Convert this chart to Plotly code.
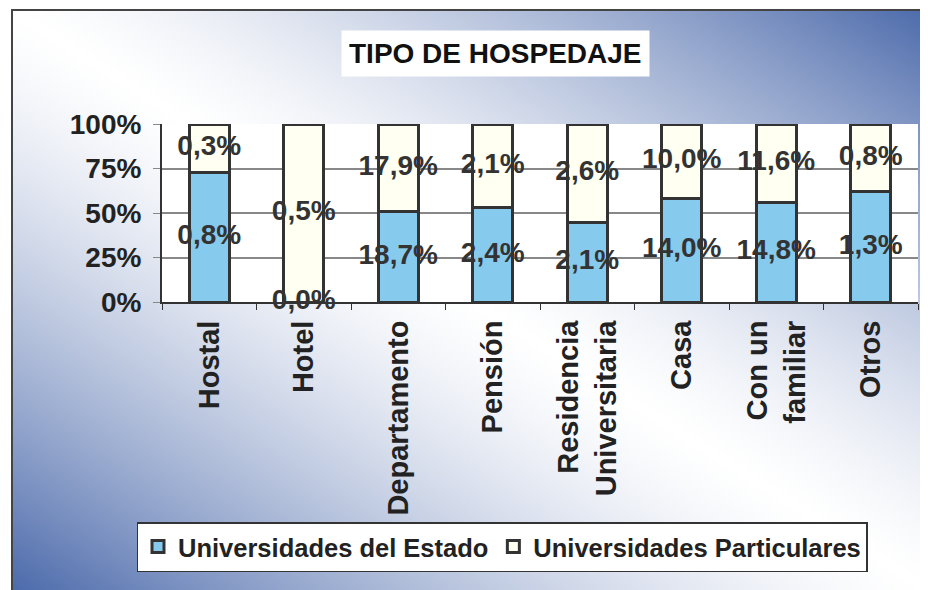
import base64
import struct
import zlib

import plotly.graph_objects as go

categorias = ["Hostal", "Hotel", "Departamento", "Pensión", "Residencia<br>Universitaria",
              "Casa", "Con un<br>familiar", "Otros"]
estado = [0.8, 0.0, 18.7, 2.4, 2.1, 14.0, 14.8, 1.3]
particulares = [0.3, 0.5, 17.9, 2.1, 2.6, 10.0, 11.6, 0.8]
y_ticks = [0, 25, 50, 75, 100]
y_tick_labels = ["0%", "25%", "50%", "75%", "100%"]

FONT = "Liberation Sans, Arial, sans-serif"
INK = "#333333"

# la página tiene 8px de margen en el body: figura de 920x582
OFF = 8
W, H = 920, 582
M = dict(t=116, b=288, l=154, r=10)
PW = W - M["l"] - M["r"]
PH = H - M["t"] - M["b"]


def px_x(page_x):
    return (page_x - OFF - M["l"]) / PW


def px_y(page_y):
    return (H - M["b"] - (page_y - OFF)) / PH


def _gradient_png(w=232, h=145, blue=(78, 108, 172)):
    """Fondo degradado diagonal: azul en esquinas sup-der / inf-izq, blanco al centro."""
    raw = bytearray()
    for j in range(h):
        raw.append(0)
        for i in range(w):
            t = abs(i / (w - 1) - j / (h - 1))
            f = t ** 1.4
            raw += bytes(int(round(255 + (c - 255) * f)) for c in blue)

    def chunk(tag, data):
        c = struct.pack(">I", len(data)) + tag + data
        return c + struct.pack(">I", zlib.crc32(tag + data) & 0xFFFFFFFF)

    png = b"\x89PNG\r\n\x1a\n"
    png += chunk(b"IHDR", struct.pack(">IIBBBBB", w, h, 8, 2, 0, 0, 0))
    png += chunk(b"IDAT", zlib.compress(bytes(raw), 9))
    png += chunk(b"IEND", b"")
    return "data:image/png;base64," + base64.b64encode(png).decode()


def _fmt(v):
    return f"{v:.1f}".replace(".", ",") + "%"


# posiciones de las etiquetas: centro de cada segmento en escala 0-100
share_e = [e / (e + p) * 100 for e, p in zip(estado, particulares)]
mid_e = [s / 2 for s in share_e]
mid_p = [s + (100 - s) / 2 for s in share_e]

fig = go.Figure()
fig.add_bar(
    x=categorias, y=estado, name="Universidades del Estado",
    marker=dict(color="#86caee", line=dict(color=INK, width=3)),
)
fig.add_bar(
    x=categorias, y=particulares, name="Universidades Particulares",
    marker=dict(color="#fffff2", line=dict(color=INK, width=3)),
)
fig.add_scatter(
    x=categorias + categorias, y=mid_e + mid_p,
    text=[_fmt(v) for v in estado + particulares],
    mode="text", showlegend=False, cliponaxis=False, hoverinfo="skip",
    textfont=dict(size=28, color=INK, family=FONT, weight="bold"),
)

fig.update_layout(
    width=W, height=H,
    barmode="stack", barnorm="percent", bargap=0.58,
    paper_bgcolor="white", plot_bgcolor="white",
    font=dict(family=FONT, size=28, color="#222222", weight="bold"),
    margin=dict(**M, autoexpand=False),
    legend=dict(
        orientation="h", x=px_x(502), xanchor="center", y=px_y(547), yanchor="middle",
        bgcolor="white", bordercolor=INK, borderwidth=1.5, traceorder="normal",
        font=dict(size=25.5, color="#222222", weight="bold"),
    ),
    annotations=[dict(
        text="TIPO DE HOSPEDAJE", xref="paper", yref="paper",
        x=px_x(495), y=px_y(54), xanchor="center", yanchor="middle",
        showarrow=False, bgcolor="white", borderpad=7,
        font=dict(size=28, color="#111111", weight="bold"),
    )],
    images=[dict(
        source=_gradient_png(), xref="paper", yref="paper",
        x=px_x(12), y=px_y(10), sizex=(W - 4) / PW, sizey=(H - 2) / PH,
        xanchor="left", yanchor="top", sizing="stretch", layer="below",
    )],
    shapes=[
        # fondo blanco del área de trazado, encima del degradado
        dict(type="rect", xref="paper", yref="paper", x0=0, x1=1, y0=0, y1=1,
             fillcolor="white", line=dict(width=0), layer="below"),
        dict(type="rect", xref="paper", yref="paper",
             x0=px_x(12), x1=px_x(934), y0=px_y(596), y1=px_y(10),
             line=dict(color="#444444", width=2)),
    ],
)
fig.update_xaxes(
    tickangle=-90, showline=True, linecolor=INK, linewidth=2,
    ticks="outside", tickson="boundaries", ticklen=6, tickcolor=INK,
    ticklabelstandoff=5, tickfont=dict(size=29),
    showgrid=False, automargin=False,
)
fig.update_yaxes(
    range=[0, 100], tickvals=y_ticks, ticktext=y_tick_labels,
    showline=True, linecolor=INK, linewidth=2,
    ticks="outside", ticklen=7, tickcolor="#888888", ticklabelstandoff=6,
    showgrid=True, gridcolor="#888888", gridwidth=1.5, zeroline=False,
    automargin=False,
)

fig.write_html("out.html")
